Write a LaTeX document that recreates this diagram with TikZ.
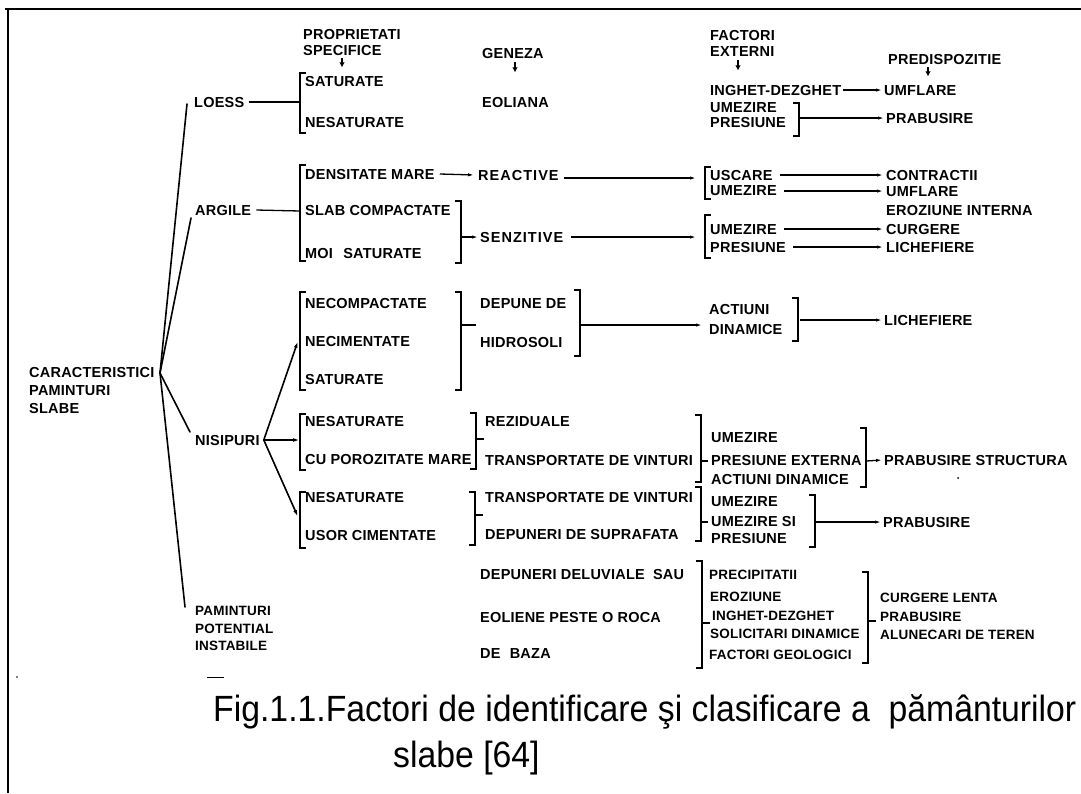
\documentclass[tikz,border=0pt]{standalone}
\usepackage{fontspec}
\usepackage{graphicx}
\usetikzlibrary{arrows.meta}
\setmainfont{Liberation Sans}
\newfontfamily\lbfont[LetterSpace=1.5]{Liberation Sans}
\newcommand{\LBr}[3]{\draw[brk] (#1+6,#2) -- (#1,#2) -- (#1,#3) -- (#1+6,#3);}
\newcommand{\RBr}[3]{\draw[brk] (#1-6,#2) -- (#1,#2) -- (#1,#3) -- (#1-6,#3);}
\begin{document}
\begin{tikzpicture}[x=1pt,y=-1pt,
  lb/.style={font=\lbfont\bfseries\fontsize{14.5}{16}\selectfont, anchor=west, inner sep=0pt, text height=10.4pt, text depth=0pt},
  smaller/.style={font=\lbfont\bfseries\fontsize{13.5}{15}\selectfont, text height=9.7pt},
  spaced/.style={font=\lbfont\bfseries\fontsize{14.5}{16}\selectfont\addfontfeature{LetterSpace=7}},
  brk/.style={line width=1.5pt},
  ln/.style={line width=1.3pt},
  arr/.style={line width=1.3pt, -{Latex[length=7pt,width=3.2pt]}},
  dn/.style={line width=1.5pt, -{Latex[length=5pt,width=5.5pt]}},
  fan/.style={line width=1.6pt, line cap=round},
  fanarr/.style={line width=1.6pt, -{Latex[length=7pt,width=3.8pt]}},
  captxt/.style={font=\fontsize{36.5}{40}\selectfont, inner sep=0pt, anchor=base west}]
\fill[white] (0,0) rectangle (1081,793);
\useasboundingbox (0,0) rectangle (1081,793);

% frame
\draw[line width=1.4pt] (5,9) -- (1081,9);
\draw[line width=1.4pt] (8,9) -- (8,793);

% headers
\node[lb] (hProp) at (303,34) {PROPRIETATI};
\node[lb] (hSpec) at (303,50) {SPECIFICE};
\node[lb] (hGen) at (482,53) {GENEZA};
\node[lb] (hFac) at (710,35) {FACTORI};
\node[lb] (hExt) at (710,51) {EXTERNI};
\node[lb] (hPre) at (888,59) {PREDISPOZITIE};
\draw[dn] ([xshift=39pt,yshift=-3pt]hSpec.south west) -- ++(0,9);
\draw[dn] ([xshift=33pt,yshift=-4pt]hGen.south west) -- ++(0,10);
\draw[dn] ([xshift=28pt,yshift=-4pt]hExt.south west) -- ++(0,10);
\draw[dn] ([xshift=40pt,yshift=-3pt]hPre.south west) -- ++(0,9);

% CARACTERISTICI
\node[lb] (car1) at (29,372) {CARACTERISTICI};
\node[lb] (car2) at (29,390) {PAMINTURI};
\node[lb] (car3) at (29,408) {SLABE};
\coordinate (cFan) at (160,373);
\coordinate (eLoess) at (187,104);
\coordinate (eArg) at (191,218);
\coordinate (eNis) at (190,432);
\coordinate (ePam) at (185,607);
\draw[fan] (cFan) -- (eLoess);
\draw[fan] (cFan) -- (eArg);
\draw[fan] (cFan) -- (eNis);
\draw[fan] (cFan) -- (ePam);

% LOESS
\node[lb] (loess) at (194,102) {LOESS};
\LBr{300}{73}{133}
\coordinate (bLoess) at (300,102);
\draw[ln] ([xshift=5pt]loess.east) -- (bLoess);
\node[lb] (satL) at (305,81) {SATURATE};
\node[lb] (nesL) at (305,122) {NESATURATE};
\node[lb] (eol) at (482,102) {EOLIANA};
\node[lb] (ingL) at (710,90) {INGHET-DEZGHET};
\node[lb] (umfL) at (884,90) {UMFLARE};
\draw[arr] ([xshift=2pt]ingL.east) -- ([xshift=-1pt]umfL.west);
\node[lb] (umzL) at (710,107) {UMEZIRE};
\node[lb] (preL) at (710,122) {PRESIUNE};
\RBr{799}{103}{136}
\coordinate (bUP) at (799,118);
\node[lb] (prbL) at (886,118) {PRABUSIRE};
\draw[arr] (bUP) -- ([xshift=-1pt]prbL.west);

% ARGILE
\node[lb] (argile) at (195,210) {ARGILE};
\LBr{300}{165}{261}
\coordinate (bArg) at (300,211);
\draw[ln] ([xshift=5pt]argile.east) -- (bArg);
\node[lb] (dens) at (305,174) {DENSITATE MARE};
\node[lb,spaced] (react) at (478,175) {REACTIVE};
\draw[arr] ([xshift=5pt]dens.east) -- ([xshift=-3pt]react.west);
\coordinate (bUU) at (697,178);
\draw[arr] ([xshift=5pt]react.east |- bUU) -- (bUU);
\LBr{705}{167}{199}
\node[lb] (usc) at (710,175) {USCARE};
\node[lb] (contr) at (886,175) {CONTRACTII};
\draw[arr] ([xshift=7pt]usc.east) -- ([xshift=-2pt]contr.west);
\node[lb] (umzA) at (710,190) {UMEZIRE};
\node[lb] (umfA) at (886,191) {UMFLARE};
\draw[arr] ([xshift=7pt]umzA.east |- umfA.west) -- ([xshift=-2pt]umfA.west);
\node[lb] (eroz) at (886,210) {EROZIUNE INTERNA};
\node[lb] (slab) at (305,210) {SLAB COMPACTATE};
\node[lb] (moi) at (305,253) {MOI\hspace{6pt} SATURATE};
\RBr{461}{201}{263}
\coordinate (bSM) at (461,237);
\node[lb,spaced] (senz) at (480,237) {SENZITIVE};
\draw[arr] (bSM) -- ([xshift=-1pt]senz.west);
\coordinate (bUP2) at (697,237);
\draw[arr] ([xshift=8pt]senz.east) -- (bUP2);
\LBr{705}{215}{258}
\node[lb] (umzS) at (710,229) {UMEZIRE};
\node[lb] (curg) at (886,229) {CURGERE};
\draw[arr] ([xshift=7pt]umzS.east) -- ([xshift=-2pt]curg.west);
\node[lb] (presS) at (710,247) {PRESIUNE};
\node[lb] (lichS) at (886,247) {LICHEFIERE};
\draw[arr] ([xshift=7pt]presS.east) -- ([xshift=-2pt]lichS.west);

% NISIPURI
\node[lb] (nis) at (195,440) {NISIPURI};
\coordinate (nFan) at ([xshift=4pt]nis.east);
\coordinate (eNec) at (298,341);
\coordinate (eNesB) at (300,440);
\coordinate (eNesC) at (298,517);
\draw[fanarr] (nFan) -- (eNec);
\draw[fanarr] (nFan) -- (eNesB);
\draw[fanarr] (nFan) -- (eNesC);

% group A
\LBr{300}{292}{390}
\node[lb] (necomp) at (305,303) {NECOMPACTATE};
\node[lb] (necim) at (305,341) {NECIMENTATE};
\node[lb] (satN) at (305,379) {SATURATE};
\RBr{461}{292}{390}
\coordinate (bNC) at (461,325);
\coordinate (tNC) at (476,325);
\draw[ln] (bNC) -- (tNC);
\node[lb] (depde) at (480,303) {DEPUNE DE};
\node[lb] (hidro) at (480,342) {HIDROSOLI};
\RBr{580}{290}{356}
\coordinate (bDH) at (580,325);
\coordinate (bAD) at (703,325);
\draw[arr] (bDH) -- (bAD);
\node[lb] (act) at (709,309) {ACTIUNI};
\node[lb] (din) at (709,329) {DINAMICE};
\RBr{798}{298}{341}
\coordinate (bAD2) at (800,320);
\node[lb] (lichN) at (884,320) {LICHEFIERE};
\draw[arr] (bAD2) -- ([xshift=-1pt]lichN.west);

% group B
\LBr{300}{414}{470}
\node[lb] (nesB) at (305,421) {NESATURATE};
\node[lb] (cupor) at (305,459) {CU POROZITATE MARE};
\RBr{476}{413}{469}
\coordinate (bNB) at (476,439);
\coordinate (tNB) at (484,439);
\draw[ln] (bNB) -- (tNB);
\node[lb] (rez) at (485,421) {REZIDUALE};
\node[lb] (transB) at (485,460) {TRANSPORTATE DE VINTURI};
\RBr{701}{415}{482}
\coordinate (bRT) at (701,461);
\coordinate (tRT) at (708,461);
\draw[ln] (bRT) -- (tRT);
\node[lb] (umzB) at (711,437) {UMEZIRE};
\node[lb] (presE) at (711,460) {PRESIUNE EXTERNA};
\node[lb] (actD) at (711,479) {ACTIUNI DINAMICE};
\RBr{866}{428}{487}
\coordinate (bPS) at (866,461);
\node[lb] (prbS) at (884,460) {PRABUSIRE STRUCTURA};
\draw[arr] (bPS) -- ([xshift=-1pt]prbS.west);

% group C
\LBr{300}{492}{548}
\node[lb] (nesC) at (305,497) {NESATURATE};
\node[lb] (usor) at (305,535) {USOR CIMENTATE};
\RBr{475}{492}{545}
\coordinate (bNCc) at (475,515);
\coordinate (tNCc) at (483,515);
\draw[ln] (bNCc) -- (tNCc);
\node[lb] (transC) at (485,497) {TRANSPORTATE DE VINTURI};
\node[lb] (depsup) at (485,534) {DEPUNERI DE SUPRAFATA};
\RBr{701}{487}{541}
\coordinate (bTD) at (701,522);
\coordinate (tTD) at (708,522);
\draw[ln] (bTD) -- (tTD);
\node[lb] (umzC) at (711,501) {UMEZIRE};
\node[lb] (umzsi) at (711,521) {UMEZIRE SI};
\node[lb] (presC) at (711,538) {PRESIUNE};
\RBr{815}{495}{547}
\coordinate (bC) at (815,522);
\node[lb] (prbC) at (883,522) {PRABUSIRE};
\draw[arr] (bC) -- ([xshift=-1pt]prbC.west);

% PAMINTURI POTENTIAL INSTABILE
\node[lb,smaller] (pam1) at (195,611) {PAMINTURI};
\node[lb,smaller] (pam2) at (195,629) {POTENTIAL};
\node[lb,smaller] (pam3) at (195,646) {INSTABILE};
\node[lb] (depdel) at (480,574) {DEPUNERI DELUVIALE\hspace{4pt} SAU};
\node[lb] (eolpes) at (480,617) {EOLIENE PESTE O ROCA};
\node[lb] (debaza) at (480,653) {DE\hspace{5pt} BAZA};
\RBr{702}{561}{668}
\coordinate (bDep) at (702,623);
\coordinate (tDep) at (710,623);
\draw[ln] (bDep) -- (tDep);
\node[lb,smaller] (precip) at (709,575) {PRECIPITATII};
\node[lb,smaller] (erozB) at (710,597) {EROZIUNE};
\node[lb,smaller] (ingB) at (712,616) {INGHET-DEZGHET};
\node[lb,smaller] (solic) at (710,634) {SOLICITARI DINAMICE};
\node[lb,smaller] (facgeo) at (709,655) {FACTORI GEOLOGICI};
\RBr{868}{572}{663}
\coordinate (bFin) at (868,621);
\coordinate (tFin) at (876,621);
\draw[ln] (bFin) -- (tFin);
\node[lb,smaller] (curgL) at (880,598) {CURGERE LENTA};
\node[lb,smaller] (prbB) at (880,617) {PRABUSIRE};
\node[lb,smaller] (alun) at (880,635) {ALUNECARI DE TEREN};

% stray marks
\draw[line width=1pt] (207,677) -- (224,677);
\fill (17,677) circle (0.8);
\fill (958,478) circle (1);

% caption
\node[captxt] (cap1) at (213,721) {\scalebox{0.925}[1]{Fig.1.1.Factori de identificare şi clasificare a\ \ pământurilor}};
\node[captxt] (cap2) at (393,767) {\scalebox{0.925}[1]{slabe [64]}};
\end{tikzpicture}
\end{document}
